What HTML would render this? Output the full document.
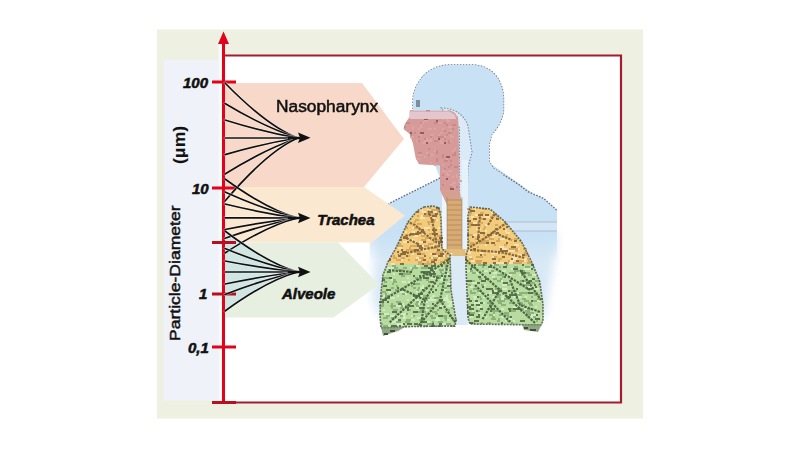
<!DOCTYPE html>
<html><head><meta charset="utf-8">
<style>
html,body{margin:0;padding:0;background:#fff;}
body{width:800px;height:452px;position:relative;overflow:hidden;font-family:"Liberation Sans",sans-serif;}
svg{position:absolute;left:0;top:0;}
.t{position:absolute;white-space:nowrap;line-height:1;color:#111;}
.bi{font-weight:bold;font-style:italic;-webkit-text-stroke:0.55px #111;}
.rg{-webkit-text-stroke:0.5px #111;}
</style></head>
<body>
<svg width="800" height="452" viewBox="0 0 800 452">
  <defs>
    <linearGradient id="torsoFade" x1="0" y1="0" x2="0" y2="1">
      <stop offset="0.72" stop-color="#c8e1f5"/>
      <stop offset="1" stop-color="#c8e1f5" stop-opacity="0"/>
    </linearGradient>
    <clipPath id="clipL"><path d="M424,207L433,206L439,208L441,218L442,249L450,255L451,290L456,320L455,326L412,326.5L381,328L380,315L381,293L383,275L388,262L396,248L408,222L417,211Z"/></clipPath>
    <clipPath id="clipR"><path d="M470,207L490,209L504.8,221.6L521.4,241.5L531.4,261.4L539.7,281.4L543,304.6L543,321L541,325L470,324L468,318L466,268L466,256L468,249L468,215Z"/></clipPath>
    <filter id="soft" x="-5%" y="-5%" width="110%" height="110%"><feGaussianBlur stdDeviation="0.45"/></filter>
    <filter id="blur1" x="-20%" y="-20%" width="140%" height="140%"><feGaussianBlur stdDeviation="4"/></filter>
  </defs>
  <!-- panel -->
  <rect x="157" y="29.5" width="486" height="389" fill="#eef1e1"/>
  <rect x="163.5" y="60" width="55" height="340.5" fill="#eff2f8"/>
  <rect x="224" y="56" width="397" height="346" fill="#ffffff"/>

  <!-- body -->
  <g id="body">
    <!-- soft torso glow -->
    <path d="M392,210 L376,225 L372,300 L380,318 L545,318 L556,250 L557,232 Z" fill="#d2e5f4" filter="url(#blur1)" opacity="0.85"/>
    <!-- torso -->
    <path d="M440,178 L390,203 L374,213 L370,232 L370,262 L557,262 L557,210.3 L543.7,198.4 L528,191.7 L518,184 L504,175 L493,168 L489,161 Z" fill="url(#torsoFade)"/>
    <rect x="450" y="240" width="18" height="85" fill="#dceaf6"/>
    <path d="M440,178 L390,203 L380,212" fill="none" stroke="#667080" stroke-width="1.4" stroke-dasharray="1.6,1.4"/>
    <!-- head -->
    <path d="M413,109 L413,100 C414,84 426,66 448,65 L474,65 C492,66 503,80 503.5,98 L503.5,110 C503,118 498,128 491.6,134.6 L489,145 L489,161 L493,168 L504,175 L518,184 L528,191.7 L543.7,198.4 L557,210.3" fill="#c8e1f5" stroke="#667080" stroke-width="1.4" stroke-dasharray="1.6,1.4"/>
    <path d="M413,109 L413,100 C414,84 426,66 448,65 L474,65 C492,66 503,80 503.5,98 L503.5,110 C503,118 498,128 491.6,134.6 L489,145 L489,161 L493,168 L504,175 L440,178 Z" fill="#c8e1f5"/>
    <!-- eye -->
    <rect x="416" y="100" width="4" height="7" fill="#6a7888" opacity="0.8"/>
    <!-- shoulder band -->
    <rect x="505" y="222" width="52" height="9" fill="#d4e6f5"/>
    <line x1="505" y1="222" x2="557" y2="222" stroke="#a8bccc" stroke-width="0.9"/>
    <line x1="505" y1="231" x2="557" y2="231" stroke="#a8bccc" stroke-width="0.9"/>
    <!-- pharynx detail -->
    <path d="M441,108 C454,108 464,114 468,126 L472,152 L468,168 L467,200 L459.5,200 L459.5,128 Z" fill="#dbeaf6" stroke="#7f8c9a" stroke-width="1.1" stroke-dasharray="1.5,1.5"/>
    <!-- pink head interior -->
    <path d="M409.6,110.8L451,110.8L455,113L458,118L458.5,125L459.5,190L440,190L440,165.6L419,164.3L415.7,158L413,143.7L409.6,134L403.5,129L404.7,124L409.6,117Z" fill="#d69a98"/>
    <g filter="url(#soft)">
    <path d="M410 110h4v2h-4zM448 110h2v2h-2zM420 112h4v2h-4zM426 112h2v2h-2zM424 114h4v2h-4zM432 114h2v2h-2zM438 114h2v2h-2zM412 116h2v2h-2zM420 116h2v2h-2zM424 116h2v2h-2zM426 116h2v2h-2zM456 116h2v2h-2zM442 118h2v2h-2zM446 118h2v2h-2zM424 120h4v2h-4zM446 120h4v2h-4zM422 122h2v2h-2zM438 122h4v2h-4zM420 124h2v2h-2zM412 126h2v2h-2zM420 126h2v2h-2zM448 126h4v2h-4zM412 128h2v2h-2zM418 128h2v2h-2zM428 128h4v2h-4zM434 128h2v2h-2zM442 128h2v2h-2zM450 130h2v2h-2zM440 132h2v2h-2zM450 132h2v2h-2zM420 134h2v2h-2zM430 134h2v2h-2zM432 134h2v2h-2zM438 134h2v2h-2zM450 134h2v2h-2zM410 136h4v2h-4zM444 136h2v2h-2zM450 136h4v2h-4zM426 138h2v2h-2zM430 138h2v2h-2zM436 138h4v2h-4zM442 138h4v2h-4zM416 140h2v2h-2zM424 140h4v2h-4zM428 140h4v2h-4zM436 140h2v2h-2zM440 140h2v2h-2zM450 140h2v2h-2zM422 142h4v2h-4zM440 142h4v2h-4zM442 142h2v2h-2zM454 148h2v2h-2zM434 150h2v2h-2zM452 150h2v2h-2zM426 152h2v2h-2zM418 154h4v2h-4zM420 154h2v2h-2zM430 154h4v2h-4zM424 156h2v2h-2zM416 158h4v2h-4zM418 158h2v2h-2zM446 158h2v2h-2zM458 158h2v2h-2zM458 160h2v2h-2zM430 162h2v2h-2zM434 164h2v2h-2zM442 164h2v2h-2zM442 170h4v2h-4zM448 170h4v2h-4zM446 172h2v2h-2zM446 174h4v2h-4zM456 174h2v2h-2zM452 176h2v2h-2zM456 176h2v2h-2zM458 178h2v2h-2zM458 180h4v2h-4zM452 182h2v2h-2zM454 182h2v2h-2zM450 184h4v2h-4zM454 186h2v2h-2z" fill="#dca4a2"/>
    <path d="M426 110h4v2h-4zM438 112h2v2h-2zM426 114h2v2h-2zM436 114h2v2h-2zM446 114h2v2h-2zM418 116h2v2h-2zM422 116h2v2h-2zM406 122h4v2h-4zM420 122h2v2h-2zM434 122h4v2h-4zM444 122h2v2h-2zM446 124h2v2h-2zM452 124h4v2h-4zM404 126h2v2h-2zM452 128h2v2h-2zM444 130h2v2h-2zM414 132h2v2h-2zM448 132h4v2h-4zM410 134h2v2h-2zM446 134h2v2h-2zM418 136h2v2h-2zM430 136h2v2h-2zM438 136h2v2h-2zM440 136h4v2h-4zM424 138h2v2h-2zM444 138h2v2h-2zM418 140h2v2h-2zM434 140h4v2h-4zM448 140h2v2h-2zM448 142h2v2h-2zM428 148h2v2h-2zM436 150h2v2h-2zM418 152h4v2h-4zM436 152h2v2h-2zM454 152h2v2h-2zM428 154h2v2h-2zM442 154h2v2h-2zM452 154h4v2h-4zM442 156h2v2h-2zM436 158h2v2h-2zM436 160h2v2h-2zM444 160h4v2h-4zM450 160h2v2h-2zM450 164h2v2h-2zM448 166h2v2h-2zM454 166h2v2h-2zM456 166h2v2h-2zM444 168h2v2h-2zM442 174h2v2h-2zM442 184h2v2h-2zM450 186h2v2h-2zM456 186h2v2h-2z" fill="#c88a88"/>
    <path d="M424 118h4v2h-4zM436 120h2v2h-2zM410 132h2v2h-2zM420 132h4v2h-4zM438 138h2v2h-2zM426 142h2v2h-2zM444 142h2v2h-2zM446 156h4v2h-4zM446 178h2v2h-2zM450 188h4v2h-4z" fill="#9a5a5a"/>
    </g>
    <path d="M410,111.5 L450,111.5 L455,115 L456,119 L410,119 Z" fill="#e6ccd4" opacity="0.9"/>
    <!-- neck gap -->
    <rect x="442" y="190" width="5" height="62" fill="#eef5fb"/>
    <rect x="462" y="160" width="6" height="92" fill="#e6f1fa"/>
    <!-- trachea -->
    <path d="M440,190 L459.5,190 L462,205 L447,205 Z" fill="#d4a090"/>
    <rect x="447" y="200" width="15" height="53" fill="#d8aa74"/>
    <path d="M447,200h15M447,205h15M447,210h15M447,215h15M447,220h15M447,225h15M447,230h15M447,235h15M447,240h15M447,245h15" stroke="#a07c50" stroke-width="1" opacity="0.6"/>
    <path d="M447,197v55M462,197v55" stroke="#8a7a68" stroke-width="1" opacity="0.5"/>
    <path d="M441,249 L468,249 L468,256 L441,256 Z" fill="#e2bc7a"/>
    <rect x="450.5" y="253" width="2" height="1.5" fill="#f4f0e0"/>
    <!-- lungs -->
    <g clip-path="url(#clipL)">
      <rect x="375" y="200" width="85" height="64" fill="#f2cc7a"/>
      <rect x="375" y="264" width="85" height="80" fill="#b8dca0"/>
    </g>
    <g clip-path="url(#clipR)">
      <rect x="460" y="200" width="90" height="64" fill="#f2cc7a"/>
      <rect x="460" y="264" width="90" height="80" fill="#b8dca0"/>
    </g>
    <g filter="url(#soft)">
    <path d="M418 209h5v2h-5zM427 209h4v2h-4zM422 211h4v2h-4zM433 211h4v2h-4zM421 215h2v2h-2zM420 217h5v2h-5zM430 217h5v2h-5zM440 217h2v2h-2zM436 219h2v2h-2zM412 227h2v2h-2zM424 227h4v2h-4zM428 227h2v2h-2zM432 227h2v2h-2zM438 227h2v2h-2zM405 231h2v2h-2zM412 231h3v2h-3zM422 233h5v2h-5zM413 235h5v2h-5zM406 239h4v2h-4zM410 239h5v2h-5zM428 239h2v2h-2zM403 241h4v2h-4zM413 241h4v2h-4zM419 241h4v2h-4zM436 241h2v2h-2zM437 243h3v2h-3zM422 245h2v2h-2zM431 245h4v2h-4zM440 245h3v2h-3zM398 247h4v2h-4zM419 249h5v2h-5zM424 249h4v2h-4zM445 251h2v2h-2zM392 253h2v2h-2zM412 253h2v2h-2zM430 253h2v2h-2zM434 255h4v2h-4zM443 255h2v2h-2zM416 257h3v2h-3zM431 257h2v2h-2zM438 257h2v2h-2zM401 259h2v2h-2zM418 259h3v2h-3zM445 261h3v2h-3zM387 263h2v2h-2zM391 263h4v2h-4zM474 208h2v2h-2zM491 212h2v2h-2zM475 214h3v2h-3zM471 216h3v2h-3zM484 216h3v2h-3zM487 216h3v2h-3zM501 220h2v2h-2zM473 222h4v2h-4zM485 224h4v2h-4zM476 228h3v2h-3zM479 228h2v2h-2zM485 230h2v2h-2zM505 230h2v2h-2zM506 232h4v2h-4zM473 234h5v2h-5zM494 234h5v2h-5zM492 236h2v2h-2zM500 238h5v2h-5zM485 244h2v2h-2zM514 244h5v2h-5zM469 246h2v2h-2zM499 246h5v2h-5zM502 248h5v2h-5zM518 248h2v2h-2zM465 250h5v2h-5zM470 250h2v2h-2zM485 250h2v2h-2zM492 250h5v2h-5zM508 250h2v2h-2zM510 250h5v2h-5zM467 252h4v2h-4zM480 252h3v2h-3zM491 252h5v2h-5zM496 252h2v2h-2zM500 252h4v2h-4zM511 254h2v2h-2zM517 254h5v2h-5zM469 256h3v2h-3zM492 256h2v2h-2zM512 256h2v2h-2zM514 256h4v2h-4zM513 258h4v2h-4zM522 258h2v2h-2zM524 258h3v2h-3zM529 258h2v2h-2zM471 260h4v2h-4zM510 260h4v2h-4zM524 260h2v2h-2zM496 262h2v2h-2zM498 262h2v2h-2zM500 262h4v2h-4zM509 262h4v2h-4z" fill="#f8e2b0"/>
    <path d="M429 207h2v2h-2zM431 209h2v2h-2zM433 209h4v2h-4zM437 209h3v2h-3zM437 211h5v2h-5zM426 213h2v2h-2zM430 213h5v2h-5zM417 215h2v2h-2zM423 215h2v2h-2zM425 215h5v2h-5zM415 219h4v2h-4zM434 219h2v2h-2zM414 221h2v2h-2zM427 221h3v2h-3zM430 221h5v2h-5zM417 223h5v2h-5zM428 223h2v2h-2zM405 227h3v2h-3zM414 227h4v2h-4zM418 227h2v2h-2zM428 229h2v2h-2zM413 233h2v2h-2zM429 233h3v2h-3zM421 235h4v2h-4zM437 235h5v2h-5zM425 237h4v2h-4zM433 237h2v2h-2zM421 239h5v2h-5zM436 239h4v2h-4zM433 241h3v2h-3zM398 243h3v2h-3zM428 243h5v2h-5zM398 245h5v2h-5zM410 245h5v2h-5zM415 245h2v2h-2zM424 245h5v2h-5zM435 245h5v2h-5zM409 247h2v2h-2zM432 247h4v2h-4zM436 247h2v2h-2zM406 249h5v2h-5zM411 249h3v2h-3zM414 251h2v2h-2zM416 251h2v2h-2zM418 251h3v2h-3zM436 251h2v2h-2zM438 251h5v2h-5zM421 253h4v2h-4zM436 253h4v2h-4zM446 253h2v2h-2zM393 255h2v2h-2zM408 255h2v2h-2zM445 255h2v2h-2zM393 257h2v2h-2zM395 257h2v2h-2zM401 257h4v2h-4zM419 257h5v2h-5zM429 257h2v2h-2zM433 257h5v2h-5zM446 257h2v2h-2zM396 259h5v2h-5zM408 259h2v2h-2zM415 259h3v2h-3zM421 259h2v2h-2zM431 259h3v2h-3zM444 259h4v2h-4zM418 261h4v2h-4zM427 261h2v2h-2zM440 261h5v2h-5zM418 263h4v2h-4zM424 263h5v2h-5zM429 263h3v2h-3zM443 263h3v2h-3zM467 208h5v2h-5zM482 208h5v2h-5zM469 212h3v2h-3zM480 212h4v2h-4zM469 214h2v2h-2zM492 214h5v2h-5zM479 216h2v2h-2zM490 216h3v2h-3zM496 216h3v2h-3zM467 218h2v2h-2zM479 218h4v2h-4zM468 222h5v2h-5zM477 222h2v2h-2zM481 222h2v2h-2zM469 224h2v2h-2zM495 224h3v2h-3zM503 224h2v2h-2zM469 226h2v2h-2zM484 226h2v2h-2zM483 228h2v2h-2zM469 234h4v2h-4zM483 234h2v2h-2zM506 234h2v2h-2zM485 236h3v2h-3zM488 236h2v2h-2zM502 236h5v2h-5zM475 238h2v2h-2zM482 238h3v2h-3zM489 238h5v2h-5zM498 238h2v2h-2zM514 238h4v2h-4zM468 240h2v2h-2zM480 240h2v2h-2zM482 240h4v2h-4zM486 240h3v2h-3zM496 240h4v2h-4zM519 240h2v2h-2zM470 242h4v2h-4zM479 242h2v2h-2zM481 242h2v2h-2zM483 242h3v2h-3zM467 244h2v2h-2zM469 244h5v2h-5zM494 244h2v2h-2zM504 244h3v2h-3zM477 246h2v2h-2zM509 248h3v2h-3zM512 248h2v2h-2zM514 248h4v2h-4zM523 248h4v2h-4zM515 250h3v2h-3zM509 252h2v2h-2zM524 252h4v2h-4zM484 254h2v2h-2zM515 254h2v2h-2zM525 254h4v2h-4zM476 256h5v2h-5zM481 256h2v2h-2zM494 256h3v2h-3zM469 258h4v2h-4zM498 258h4v2h-4zM527 258h2v2h-2zM467 260h2v2h-2zM475 260h4v2h-4zM479 260h3v2h-3zM498 260h2v2h-2zM508 260h2v2h-2zM519 260h5v2h-5zM528 260h2v2h-2zM465 262h3v2h-3zM476 262h5v2h-5zM507 262h2v2h-2zM513 262h5v2h-5zM518 262h4v2h-4zM527 262h5v2h-5z" fill="#d2a862"/>
    <path d="M436 207h3v2h-3zM417 211h2v2h-2zM430 211h3v2h-3zM424 213h2v2h-2zM428 213h2v2h-2zM435 213h3v2h-3zM432 215h5v2h-5zM431 219h3v2h-3zM421 229h3v2h-3zM432 229h3v2h-3zM435 229h2v2h-2zM417 231h2v2h-2zM410 233h3v2h-3zM415 233h4v2h-4zM432 233h2v2h-2zM434 233h4v2h-4zM403 237h5v2h-5zM439 237h4v2h-4zM400 239h2v2h-2zM440 239h2v2h-2zM407 241h2v2h-2zM423 241h3v2h-3zM438 241h5v2h-5zM417 243h2v2h-2zM417 245h5v2h-5zM419 247h4v2h-4zM401 249h2v2h-2zM414 249h5v2h-5zM437 249h3v2h-3zM397 251h2v2h-2zM402 251h5v2h-5zM401 253h2v2h-2zM403 253h3v2h-3zM417 253h4v2h-4zM432 253h4v2h-4zM440 253h4v2h-4zM398 255h3v2h-3zM406 255h2v2h-2zM424 255h2v2h-2zM438 255h5v2h-5zM389 259h2v2h-2zM423 259h3v2h-3zM434 259h3v2h-3zM431 261h4v2h-4zM400 263h4v2h-4zM422 263h2v2h-2zM434 263h2v2h-2zM470 210h5v2h-5zM478 214h5v2h-5zM485 214h4v2h-4zM473 218h4v2h-4zM483 218h3v2h-3zM496 218h3v2h-3zM467 220h4v2h-4zM471 224h5v2h-5zM476 224h2v2h-2zM478 224h2v2h-2zM506 226h2v2h-2zM495 228h3v2h-3zM503 228h2v2h-2zM480 232h5v2h-5zM496 232h3v2h-3zM467 234h2v2h-2zM487 234h5v2h-5zM499 234h2v2h-2zM472 236h2v2h-2zM477 236h3v2h-3zM478 240h2v2h-2zM514 240h3v2h-3zM486 242h3v2h-3zM491 242h4v2h-4zM506 242h2v2h-2zM511 246h5v2h-5zM473 248h3v2h-3zM500 248h2v2h-2zM483 250h2v2h-2zM500 250h3v2h-3zM503 250h2v2h-2zM505 250h3v2h-3zM498 252h2v2h-2zM480 254h2v2h-2zM522 254h3v2h-3zM502 256h3v2h-3zM465 258h2v2h-2zM492 258h4v2h-4zM511 258h2v2h-2zM516 260h3v2h-3zM483 262h4v2h-4zM493 262h3v2h-3zM504 262h3v2h-3z" fill="#8e6c40"/>
    <path d="M416 265h4v2h-4zM447 265h4v2h-4zM387 267h2v2h-2zM389 267h5v2h-5zM410 267h2v2h-2zM389 269h3v2h-3zM396 269h2v2h-2zM432 269h5v2h-5zM444 269h5v2h-5zM381 273h5v2h-5zM393 273h2v2h-2zM444 273h4v2h-4zM448 273h2v2h-2zM407 277h2v2h-2zM431 277h5v2h-5zM441 277h2v2h-2zM391 279h2v2h-2zM436 279h2v2h-2zM440 279h3v2h-3zM402 281h4v2h-4zM408 281h2v2h-2zM414 281h2v2h-2zM443 283h2v2h-2zM447 283h5v2h-5zM422 285h2v2h-2zM433 285h4v2h-4zM420 287h4v2h-4zM444 289h3v2h-3zM388 291h3v2h-3zM400 291h5v2h-5zM407 291h2v2h-2zM416 291h2v2h-2zM428 291h4v2h-4zM393 293h2v2h-2zM405 293h2v2h-2zM383 295h2v2h-2zM397 295h2v2h-2zM420 295h3v2h-3zM432 295h3v2h-3zM446 295h2v2h-2zM382 297h5v2h-5zM390 297h5v2h-5zM412 297h2v2h-2zM430 297h2v2h-2zM444 297h4v2h-4zM407 299h2v2h-2zM414 299h5v2h-5zM428 299h3v2h-3zM431 299h5v2h-5zM443 299h4v2h-4zM447 299h2v2h-2zM419 301h2v2h-2zM423 301h5v2h-5zM447 301h5v2h-5zM402 303h2v2h-2zM418 303h2v2h-2zM449 303h3v2h-3zM396 305h2v2h-2zM398 305h3v2h-3zM403 305h2v2h-2zM427 305h2v2h-2zM440 305h5v2h-5zM447 305h5v2h-5zM416 307h3v2h-3zM445 307h2v2h-2zM383 309h2v2h-2zM426 309h2v2h-2zM430 311h2v2h-2zM384 313h5v2h-5zM401 313h2v2h-2zM403 313h3v2h-3zM390 315h5v2h-5zM395 315h5v2h-5zM403 315h2v2h-2zM411 315h2v2h-2zM422 315h4v2h-4zM403 317h3v2h-3zM417 317h4v2h-4zM436 317h3v2h-3zM394 319h4v2h-4zM411 319h4v2h-4zM435 319h5v2h-5zM447 319h3v2h-3zM391 321h5v2h-5zM427 321h3v2h-3zM396 323h5v2h-5zM401 323h2v2h-2zM442 323h4v2h-4zM388 325h3v2h-3zM397 325h2v2h-2zM401 325h3v2h-3zM428 325h3v2h-3zM435 325h2v2h-2zM490 264h4v2h-4zM465 266h2v2h-2zM489 268h2v2h-2zM511 268h2v2h-2zM524 268h5v2h-5zM529 268h2v2h-2zM467 270h3v2h-3zM484 270h2v2h-2zM486 270h2v2h-2zM502 270h4v2h-4zM519 270h2v2h-2zM476 272h3v2h-3zM493 272h4v2h-4zM482 274h3v2h-3zM507 274h5v2h-5zM519 274h2v2h-2zM532 274h3v2h-3zM535 274h3v2h-3zM492 276h3v2h-3zM506 276h5v2h-5zM525 278h5v2h-5zM501 280h2v2h-2zM513 280h2v2h-2zM472 282h5v2h-5zM524 282h2v2h-2zM484 284h2v2h-2zM502 284h5v2h-5zM470 286h3v2h-3zM528 286h5v2h-5zM502 288h5v2h-5zM534 288h5v2h-5zM494 290h3v2h-3zM479 292h2v2h-2zM489 292h3v2h-3zM516 292h3v2h-3zM485 294h2v2h-2zM503 294h4v2h-4zM473 296h4v2h-4zM483 296h3v2h-3zM492 296h5v2h-5zM502 296h2v2h-2zM513 296h3v2h-3zM518 296h3v2h-3zM525 296h2v2h-2zM474 298h2v2h-2zM501 298h3v2h-3zM517 300h2v2h-2zM537 300h4v2h-4zM474 302h2v2h-2zM476 302h4v2h-4zM483 302h2v2h-2zM516 304h4v2h-4zM477 306h2v2h-2zM479 306h3v2h-3zM513 306h4v2h-4zM521 306h2v2h-2zM535 306h2v2h-2zM501 308h3v2h-3zM524 308h3v2h-3zM472 310h2v2h-2zM533 310h3v2h-3zM479 312h2v2h-2zM538 312h2v2h-2zM482 314h2v2h-2zM493 314h2v2h-2zM531 314h5v2h-5zM470 316h3v2h-3zM482 316h5v2h-5zM501 316h3v2h-3zM504 316h3v2h-3zM530 316h3v2h-3zM541 316h2v2h-2zM508 318h4v2h-4zM505 320h2v2h-2zM513 320h2v2h-2z" fill="#d2ebc0"/>
    <path d="M392 265h4v2h-4zM414 265h2v2h-2zM445 265h2v2h-2zM394 267h4v2h-4zM403 267h4v2h-4zM412 267h2v2h-2zM414 267h4v2h-4zM421 267h4v2h-4zM425 267h3v2h-3zM445 267h2v2h-2zM398 269h5v2h-5zM411 269h2v2h-2zM439 269h5v2h-5zM449 269h2v2h-2zM420 271h2v2h-2zM429 271h2v2h-2zM440 271h2v2h-2zM403 273h4v2h-4zM407 273h2v2h-2zM409 273h2v2h-2zM441 273h3v2h-3zM401 275h2v2h-2zM403 275h2v2h-2zM435 275h4v2h-4zM439 275h2v2h-2zM382 277h4v2h-4zM386 277h3v2h-3zM415 277h3v2h-3zM436 277h5v2h-5zM393 279h3v2h-3zM417 279h5v2h-5zM426 279h3v2h-3zM443 279h5v2h-5zM384 281h3v2h-3zM393 281h2v2h-2zM395 281h2v2h-2zM428 281h2v2h-2zM392 283h2v2h-2zM415 283h5v2h-5zM439 283h4v2h-4zM396 285h2v2h-2zM411 285h2v2h-2zM437 285h2v2h-2zM391 287h3v2h-3zM413 287h3v2h-3zM418 287h2v2h-2zM424 287h2v2h-2zM444 287h3v2h-3zM395 289h4v2h-4zM401 289h2v2h-2zM417 289h2v2h-2zM382 291h4v2h-4zM445 291h5v2h-5zM385 293h2v2h-2zM402 293h3v2h-3zM381 295h2v2h-2zM385 295h5v2h-5zM423 295h5v2h-5zM423 297h3v2h-3zM426 297h4v2h-4zM434 297h5v2h-5zM424 299h2v2h-2zM426 299h2v2h-2zM396 301h5v2h-5zM416 301h3v2h-3zM438 301h2v2h-2zM440 301h5v2h-5zM382 303h2v2h-2zM391 303h2v2h-2zM415 303h3v2h-3zM420 303h4v2h-4zM379 305h3v2h-3zM382 305h2v2h-2zM390 305h2v2h-2zM392 305h4v2h-4zM401 305h2v2h-2zM405 305h4v2h-4zM416 305h3v2h-3zM435 305h3v2h-3zM391 307h2v2h-2zM400 307h3v2h-3zM427 307h4v2h-4zM431 307h3v2h-3zM451 307h2v2h-2zM393 309h5v2h-5zM402 309h2v2h-2zM409 309h2v2h-2zM420 309h4v2h-4zM437 309h2v2h-2zM448 309h2v2h-2zM418 311h5v2h-5zM423 311h3v2h-3zM432 311h5v2h-5zM445 311h2v2h-2zM379 313h5v2h-5zM396 313h3v2h-3zM406 313h2v2h-2zM425 313h4v2h-4zM435 313h3v2h-3zM386 315h2v2h-2zM388 315h2v2h-2zM400 315h3v2h-3zM413 315h2v2h-2zM430 315h3v2h-3zM443 315h4v2h-4zM383 317h5v2h-5zM391 317h5v2h-5zM421 317h3v2h-3zM431 317h5v2h-5zM444 317h3v2h-3zM406 319h5v2h-5zM419 319h5v2h-5zM445 319h2v2h-2zM452 319h5v2h-5zM396 321h5v2h-5zM405 321h5v2h-5zM432 321h2v2h-2zM438 321h5v2h-5zM454 321h2v2h-2zM381 323h2v2h-2zM427 323h5v2h-5zM446 323h5v2h-5zM383 325h5v2h-5zM404 325h3v2h-3zM424 325h4v2h-4zM437 325h2v2h-2zM450 325h2v2h-2zM452 325h3v2h-3zM478 264h5v2h-5zM485 264h2v2h-2zM494 264h5v2h-5zM506 264h2v2h-2zM473 266h2v2h-2zM482 266h2v2h-2zM499 266h2v2h-2zM514 266h4v2h-4zM525 266h5v2h-5zM475 268h2v2h-2zM470 270h3v2h-3zM482 270h2v2h-2zM491 270h3v2h-3zM514 270h5v2h-5zM523 270h2v2h-2zM472 272h4v2h-4zM509 272h4v2h-4zM513 272h3v2h-3zM526 272h4v2h-4zM497 274h2v2h-2zM499 274h5v2h-5zM521 274h4v2h-4zM528 274h4v2h-4zM502 276h2v2h-2zM479 278h3v2h-3zM493 278h4v2h-4zM500 278h2v2h-2zM472 280h3v2h-3zM497 280h4v2h-4zM520 280h2v2h-2zM524 280h5v2h-5zM535 280h5v2h-5zM530 282h5v2h-5zM468 284h3v2h-3zM481 284h3v2h-3zM507 284h3v2h-3zM519 284h4v2h-4zM523 284h4v2h-4zM527 284h2v2h-2zM538 284h2v2h-2zM473 288h4v2h-4zM495 288h2v2h-2zM497 288h5v2h-5zM470 290h2v2h-2zM477 290h4v2h-4zM497 290h3v2h-3zM510 290h2v2h-2zM512 290h5v2h-5zM470 292h4v2h-4zM474 292h2v2h-2zM481 292h2v2h-2zM519 292h5v2h-5zM524 292h4v2h-4zM533 292h5v2h-5zM467 294h2v2h-2zM496 294h5v2h-5zM517 294h5v2h-5zM534 294h4v2h-4zM538 294h2v2h-2zM479 296h2v2h-2zM497 296h3v2h-3zM516 296h2v2h-2zM531 296h2v2h-2zM480 298h2v2h-2zM499 298h2v2h-2zM504 298h4v2h-4zM522 298h4v2h-4zM537 298h2v2h-2zM539 298h4v2h-4zM497 300h5v2h-5zM502 300h3v2h-3zM524 300h5v2h-5zM533 300h4v2h-4zM487 302h2v2h-2zM489 302h2v2h-2zM498 302h4v2h-4zM509 302h5v2h-5zM517 302h2v2h-2zM519 302h4v2h-4zM528 302h4v2h-4zM489 304h4v2h-4zM501 304h5v2h-5zM520 304h5v2h-5zM529 304h4v2h-4zM487 308h2v2h-2zM489 308h2v2h-2zM511 308h2v2h-2zM521 308h3v2h-3zM527 308h4v2h-4zM478 310h2v2h-2zM492 310h5v2h-5zM497 310h4v2h-4zM511 310h2v2h-2zM513 310h3v2h-3zM520 310h2v2h-2zM525 310h3v2h-3zM528 310h2v2h-2zM470 312h5v2h-5zM493 312h2v2h-2zM504 312h5v2h-5zM526 312h3v2h-3zM529 312h5v2h-5zM489 314h4v2h-4zM499 314h3v2h-3zM504 314h5v2h-5zM527 314h4v2h-4zM492 316h3v2h-3zM507 316h3v2h-3zM527 316h3v2h-3zM533 316h3v2h-3zM491 318h3v2h-3zM494 318h2v2h-2zM498 318h2v2h-2zM497 320h3v2h-3zM507 320h4v2h-4zM536 320h2v2h-2zM473 322h2v2h-2zM481 322h2v2h-2zM487 322h4v2h-4zM511 322h2v2h-2z" fill="#8cb27c"/>
    <path d="M424 265h2v2h-2zM426 265h2v2h-2zM431 265h5v2h-5zM441 265h2v2h-2zM428 267h5v2h-5zM430 269h2v2h-2zM387 271h4v2h-4zM422 271h2v2h-2zM424 271h5v2h-5zM433 271h2v2h-2zM399 273h4v2h-4zM429 273h2v2h-2zM431 273h5v2h-5zM413 275h2v2h-2zM419 275h2v2h-2zM441 275h2v2h-2zM448 275h2v2h-2zM389 277h3v2h-3zM423 277h2v2h-2zM425 277h4v2h-4zM382 279h3v2h-3zM430 281h4v2h-4zM413 283h2v2h-2zM383 285h4v2h-4zM447 285h4v2h-4zM397 287h2v2h-2zM386 289h5v2h-5zM422 289h2v2h-2zM435 289h2v2h-2zM441 289h3v2h-3zM432 291h2v2h-2zM418 293h5v2h-5zM413 295h2v2h-2zM415 295h5v2h-5zM387 297h3v2h-3zM382 299h5v2h-5zM441 299h2v2h-2zM379 301h5v2h-5zM387 301h2v2h-2zM421 301h2v2h-2zM398 303h4v2h-4zM432 303h2v2h-2zM409 305h5v2h-5zM407 307h2v2h-2zM419 307h4v2h-4zM439 307h3v2h-3zM407 309h2v2h-2zM392 311h5v2h-5zM413 311h5v2h-5zM438 315h5v2h-5zM449 315h2v2h-2zM451 317h2v2h-2zM398 319h3v2h-3zM422 321h5v2h-5zM403 323h2v2h-2zM407 323h5v2h-5zM414 323h4v2h-4zM432 323h2v2h-2zM439 323h3v2h-3zM391 325h4v2h-4zM395 325h2v2h-2zM399 325h2v2h-2zM431 325h4v2h-4zM439 325h2v2h-2zM474 264h2v2h-2zM483 264h2v2h-2zM522 264h2v2h-2zM531 264h3v2h-3zM471 266h2v2h-2zM488 266h4v2h-4zM503 266h4v2h-4zM470 268h2v2h-2zM513 268h5v2h-5zM531 268h2v2h-2zM521 270h2v2h-2zM489 272h2v2h-2zM521 272h5v2h-5zM478 276h3v2h-3zM504 276h2v2h-2zM485 278h4v2h-4zM532 278h3v2h-3zM467 280h5v2h-5zM481 280h5v2h-5zM522 280h2v2h-2zM529 280h3v2h-3zM477 282h3v2h-3zM503 282h5v2h-5zM526 282h4v2h-4zM534 284h2v2h-2zM482 286h2v2h-2zM535 286h2v2h-2zM486 288h3v2h-3zM489 288h4v2h-4zM516 288h2v2h-2zM527 288h5v2h-5zM492 290h2v2h-2zM508 290h2v2h-2zM492 292h2v2h-2zM494 292h5v2h-5zM504 292h3v2h-3zM511 292h2v2h-2zM528 292h5v2h-5zM487 294h2v2h-2zM509 294h5v2h-5zM514 294h3v2h-3zM477 296h2v2h-2zM506 296h2v2h-2zM508 296h3v2h-3zM468 298h2v2h-2zM469 300h3v2h-3zM475 300h3v2h-3zM531 300h2v2h-2zM480 302h3v2h-3zM471 304h3v2h-3zM476 304h4v2h-4zM467 306h4v2h-4zM490 306h2v2h-2zM469 308h5v2h-5zM480 308h3v2h-3zM491 308h2v2h-2zM493 308h2v2h-2zM508 308h3v2h-3zM513 308h3v2h-3zM516 308h5v2h-5zM476 310h2v2h-2zM490 310h2v2h-2zM509 310h2v2h-2zM467 312h3v2h-3zM469 314h5v2h-5zM478 314h2v2h-2zM536 314h2v2h-2zM476 316h4v2h-4zM510 316h2v2h-2zM535 318h5v2h-5zM474 320h5v2h-5zM520 320h5v2h-5zM470 322h3v2h-3zM501 322h2v2h-2z" fill="#58744c"/>
    </g>
    <g clip-path="url(#clipL)"><g filter="url(#soft)" fill="none" stroke-width="2.2" stroke-dasharray="2.5,1">
      <path stroke="#8a6838" d="M449,250 L430,238 L415,225 L408,222 M440,246 L420,250 L398,255 M436,240 L432,220 L428,210 M425,232 L405,236 M418,244 L402,236"/>
      <path stroke="#4c6a42" d="M451,258 L430,272 L402,289 L425,300 L438,278 L421,272 M449,258 L440,300 L415,330 M430,285 L389,323 M402,289 L383,300 M440,300 L455,322 M412,272 L388,270 M425,300 L420,330"/>
    </g></g>
    <g clip-path="url(#clipR)"><g filter="url(#soft)" fill="none" stroke-width="2.2" stroke-dasharray="2.5,1">
      <path stroke="#8a6838" d="M464,251 L485,238 L509,221 M470,250 L500,252 L525,258 M478,240 L480,215 M492,232 L512,240 M488,225 L496,212"/>
      <path stroke="#4c6a42" d="M466,260 L500,290 L535,323 M475,285 L510,322 M490,265 L530,290 M500,290 L482,320 M520,270 L541,300 M510,280 L520,305 L540,312"/>
    </g></g>
    <path d="M424,207L433,206L439,208L441,218L442,249L450,255L451,290L456,320L455,326L412,326.5L381,328L380,315L381,293L383,275L388,262L396,248L408,222L417,211ZM470,207L490,209L504.8,221.6L521.4,241.5L531.4,261.4L539.7,281.4L543,304.6L543,321L541,325L470,324L468,318L466,268L466,256L468,249L468,215Z" fill="none" stroke="#4e5646" stroke-width="1.6" stroke-dasharray="2,1" opacity="0.85"/>
    <path d="M381,327 L406,326.5 L398,331 L383,336 Z M522,324.5 L542,324 L538,332 L524,330 Z" fill="#74906a" opacity="0.8" filter="url(#soft)"/><path d="M384,333h4v2h-4zM390,330h5v2h-5zM530,329h6v2h-6zM524,327h4v2h-4z" fill="#3e5236"/>
  </g>

  <!-- chevrons -->
  <polygon points="225,83 362,83 404,139 364,187 225,187" fill="#f8d9c9"/>
  <polygon points="225,187 364,187 405,215.5 372,242.5 225,242.5" fill="#fbe8d1"/>
  <polygon points="225,242.5 338,242.5 379,284.5 333.5,317.5 225,317.5" fill="#e7efe0"/>
  <path d="M225,230.5 Q268,263.7 298,272 Q268,279.8 225,311 Z" fill="#cfe6e3"/>

  <!-- red axis -->
  <rect x="218.5" y="40" width="4" height="362" fill="#f8faf9"/>
  <line x1="223.5" y1="42" x2="223.5" y2="404" stroke="#e2021c" stroke-width="3"/>
  <polygon points="223.5,31.5 229,44 218,44" fill="#e2021c"/>
  <g stroke="#e2021c" stroke-width="3">
    <line x1="212" y1="82" x2="236" y2="82"/>
    <line x1="212" y1="188" x2="236" y2="188"/>
    <line x1="212" y1="347" x2="236" y2="347"/>
  </g>
  <g stroke="#b8101e" stroke-width="3">
    <line x1="212" y1="242.5" x2="236" y2="242.5"/>
    <line x1="212" y1="294" x2="236" y2="294"/>
    <line x1="212" y1="402.5" x2="236" y2="402.5"/>
  </g>
  <polyline points="225,55.5 621,55.5 621,402.5 236,402.5" fill="none" stroke="#a41c30" stroke-width="2.2"/>

  <!-- fans -->
  <g fill="none" stroke-linecap="round">
    <path stroke="#ffffff" stroke-opacity="0.65" stroke-width="2.6" d="M225,83Q268,127.0 298,138L302,138"/><path stroke="#111111" stroke-width="1.7" d="M225,83Q268,127.0 298,138L302,138"/><path stroke="#ffffff" stroke-opacity="0.65" stroke-width="2.6" d="M225,103.5Q264,127.0 298,138L302,138"/><path stroke="#111111" stroke-width="1.7" d="M225,103.5Q264,127.0 298,138L302,138"/><path stroke="#ffffff" stroke-opacity="0.65" stroke-width="2.6" d="M225,120Q264,132.2 298,138L302,138"/><path stroke="#111111" stroke-width="1.7" d="M225,120Q264,132.2 298,138L302,138"/><path stroke="#ffffff" stroke-opacity="0.65" stroke-width="2.6" d="M225,138Q264,138.0 298,138L302,138"/><path stroke="#111111" stroke-width="1.7" d="M225,138Q264,138.0 298,138L302,138"/><path stroke="#ffffff" stroke-opacity="0.65" stroke-width="2.6" d="M225,154.6Q264,143.3 298,138L302,138"/><path stroke="#111111" stroke-width="1.7" d="M225,154.6Q264,143.3 298,138L302,138"/><path stroke="#ffffff" stroke-opacity="0.65" stroke-width="2.6" d="M225,174Q264,149.5 298,138L302,138"/><path stroke="#111111" stroke-width="1.7" d="M225,174Q264,149.5 298,138L302,138"/><path stroke="#ffffff" stroke-opacity="0.65" stroke-width="2.6" d="M225,201Q268,150.6 298,138L302,138"/><path stroke="#111111" stroke-width="1.7" d="M225,201Q268,150.6 298,138L302,138"/><path stroke="#ffffff" stroke-opacity="0.65" stroke-width="2.6" d="M225,179Q268,210.2 298,218L302,218"/><path stroke="#111111" stroke-width="1.7" d="M225,179Q268,210.2 298,218L302,218"/><path stroke="#ffffff" stroke-opacity="0.65" stroke-width="2.6" d="M225,192Q264,209.7 298,218L302,218"/><path stroke="#111111" stroke-width="1.7" d="M225,192Q264,209.7 298,218L302,218"/><path stroke="#ffffff" stroke-opacity="0.65" stroke-width="2.6" d="M225,204Q264,213.5 298,218L302,218"/><path stroke="#111111" stroke-width="1.7" d="M225,204Q264,213.5 298,218L302,218"/><path stroke="#ffffff" stroke-opacity="0.65" stroke-width="2.6" d="M225,217.8Q264,217.9 298,218L302,218"/><path stroke="#111111" stroke-width="1.7" d="M225,217.8Q264,217.9 298,218L302,218"/><path stroke="#ffffff" stroke-opacity="0.65" stroke-width="2.6" d="M225,229.5Q264,221.7 298,218L302,218"/><path stroke="#111111" stroke-width="1.7" d="M225,229.5Q264,221.7 298,218L302,218"/><path stroke="#ffffff" stroke-opacity="0.65" stroke-width="2.6" d="M225,238.3Q264,224.5 298,218L302,218"/><path stroke="#111111" stroke-width="1.7" d="M225,238.3Q264,224.5 298,218L302,218"/><path stroke="#ffffff" stroke-opacity="0.65" stroke-width="2.6" d="M225,253Q268,225.0 298,218L302,218"/><path stroke="#111111" stroke-width="1.7" d="M225,253Q268,225.0 298,218L302,218"/><path stroke="#ffffff" stroke-opacity="0.65" stroke-width="2.6" d="M225,231Q268,263.8 298,272L302,272"/><path stroke="#111111" stroke-width="1.7" d="M225,231Q268,263.8 298,272L302,272"/><path stroke="#ffffff" stroke-opacity="0.65" stroke-width="2.6" d="M225,248.5Q264,264.5 298,272L302,272"/><path stroke="#111111" stroke-width="1.7" d="M225,248.5Q264,264.5 298,272L302,272"/><path stroke="#ffffff" stroke-opacity="0.65" stroke-width="2.6" d="M225,261Q264,268.5 298,272L302,272"/><path stroke="#111111" stroke-width="1.7" d="M225,261Q264,268.5 298,272L302,272"/><path stroke="#ffffff" stroke-opacity="0.65" stroke-width="2.6" d="M225,272Q264,272.0 298,272L302,272"/><path stroke="#111111" stroke-width="1.7" d="M225,272Q264,272.0 298,272L302,272"/><path stroke="#ffffff" stroke-opacity="0.65" stroke-width="2.6" d="M225,284Q264,275.8 298,272L302,272"/><path stroke="#111111" stroke-width="1.7" d="M225,284Q264,275.8 298,272L302,272"/><path stroke="#ffffff" stroke-opacity="0.65" stroke-width="2.6" d="M225,294.5Q264,279.2 298,272L302,272"/><path stroke="#111111" stroke-width="1.7" d="M225,294.5Q264,279.2 298,272L302,272"/><path stroke="#ffffff" stroke-opacity="0.65" stroke-width="2.6" d="M225,311Q268,279.8 298,272L302,272"/><path stroke="#111111" stroke-width="1.7" d="M225,311Q268,279.8 298,272L302,272"/><path stroke="#111" stroke-width="2.6" d="M289,138L302,138M289,218L302,218M289,272L302,272"/>
  </g>
  <g fill="#111">
    <polygon points="298,132.5 310.5,137.8 298,143 300,137.8"/>
    <polygon points="298,212.7 310.5,218 298,223.3 300,218"/>
    <polygon points="298,266.7 310.5,272 298,277.3 300,272"/>
  </g>
</svg>

<div class="t rg" style="left:276.3px;top:98.8px;font-size:15.8px;transform:scaleX(1.097);transform-origin:0 0;">Nasopharynx</div>
<div class="t bi" style="left:317.3px;top:211.8px;font-size:15px;">Trachea</div>
<div class="t bi" style="left:282px;top:286px;font-size:15px;">Alveole</div>

<div class="t bi" style="left:183px;top:75px;font-size:15px;">100</div>
<div class="t bi" style="left:192px;top:181px;font-size:15px;">10</div>
<div class="t bi" style="left:199px;top:286px;font-size:15px;">1</div>
<div class="t bi" style="left:188px;top:340px;font-size:15px;">0,1</div>

<div class="t rg" style="left:167px;top:341px;font-size:15.2px;transform:rotate(-90deg) scaleX(1.155);transform-origin:0 0;">Particle-Diameter</div>
<div class="t" style="left:171.6px;top:164.2px;font-size:16px;font-weight:bold;-webkit-text-stroke:0.1px #111;transform:rotate(-90deg) scaleX(1.1);transform-origin:0 0;">(&#956;m)</div>
</body></html>
